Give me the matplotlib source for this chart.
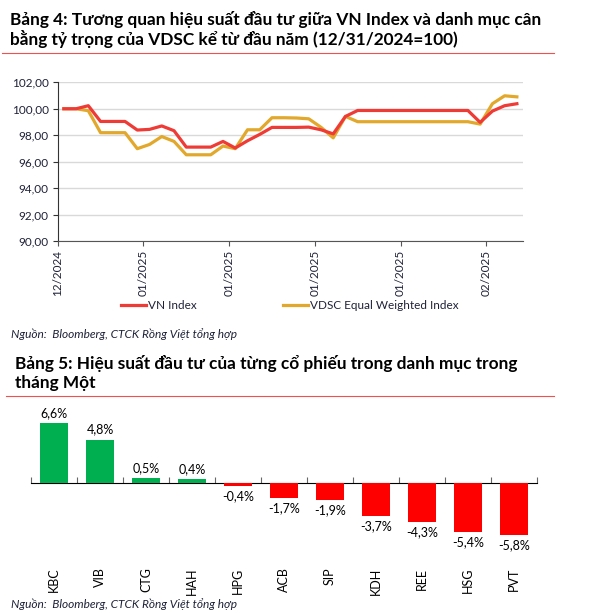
import numpy as np
import pandas as pd
import matplotlib
matplotlib.use("Agg")
import matplotlib.pyplot as plt
import matplotlib.dates as mdates
from matplotlib.ticker import FuncFormatter, FixedLocator

plt.rcParams['font.family'] = ['Lato', 'DejaVu Sans']

# --- Bang 4 data (daily, 12/31/2024 = 100)
dates = pd.date_range('2024-12-31', periods=38, freq='D')
vn_index = [100.0, 100.0, 100.23, 99.04, 99.04, 99.04, 98.39, 98.44, 98.7, 98.34,
            97.1, 97.1, 97.1, 97.53, 97.03, 97.58, 98.06, 98.59, 98.59, 98.59,
            98.61, 98.41, 98.1, 99.42, 99.87, 99.87, 99.87, 99.87, 99.87, 99.87,
            99.87, 99.87, 99.87, 99.87, 98.97, 99.82, 100.23, 100.38]
vdsc_index = [100.0, 100.0, 99.85, 98.19, 98.19, 98.19, 96.98, 97.3, 97.9, 97.53,
              96.52, 96.52, 96.52, 97.18, 96.98, 98.41, 98.41, 99.32, 99.32, 99.3,
              99.24, 98.6, 97.8, 99.42, 99.02, 99.02, 99.02, 99.02, 99.02, 99.02,
              99.02, 99.02, 99.02, 99.02, 98.84, 100.38, 100.98, 100.9]

# --- Bang 5 data (% return in January)
tickers = ['KBC', 'VIB', 'CTG', 'HAH', 'HPG', 'ACB', 'SIP', 'KDH', 'REE', 'HSG', 'PVT']
returns = [6.6, 4.8, 0.5, 0.4, -0.4, -1.7, -1.9, -3.7, -4.3, -5.4, -5.8]

TXT = '#1f2238'
RED_LINE = '#ef3b36'
GOLD = '#e2a82b'
GRID = '#d9d9d9'
TITLE_SIZE = 12.4
SOURCE = 'Nguồn:  Bloomberg, CTCK Rồng Việt tổng hợp'

fig = plt.figure(figsize=(5.9, 6.13), dpi=100)

# Bang 4 titles
fig.text(10 / 590, 1 - 19 / 613, 'Bảng 4: Tương quan hiệu suất đầu tư giữa VN Index và danh mục cân',
         fontsize=TITLE_SIZE, fontweight='bold', color='black', va='center')
fig.text(10 / 590, 1 - 39 / 613, 'bằng tỷ trọng của VDSC kể từ đầu năm (12/31/2024=100)',
         fontsize=TITLE_SIZE, fontweight='bold', color='black', va='center')
fig.add_artist(plt.Line2D([2 / 590, 554 / 590], [1 - 52.5 / 613] * 2, color='#f05050', lw=0.8))

# ---- Line chart
ax1 = fig.add_axes([57.7 / 590, 1 - 241 / 613, (523 - 57.7) / 590, (241 - 82.3) / 613])
ax1.plot(dates, vn_index, color=RED_LINE, lw=2.3, label='VN Index', zorder=3)
ax1.plot(dates, vdsc_index, color=GOLD, lw=2.3, label='VDSC Equal Weighted Index', zorder=2)
half = pd.Timedelta(hours=12)
ax1.set_xlim(dates[0] - half, dates[-1] + half)
ax1.set_ylim(90, 102)
ax1.set_yticks(np.arange(90, 103, 2))
ax1.yaxis.set_major_formatter(FuncFormatter(lambda v, p: f'{v:.2f}'.replace('.', ',')))
ax1.xaxis.set_major_locator(FixedLocator(mdates.date2num(list(dates[::7] - half))))
ax1.xaxis.set_major_formatter(mdates.DateFormatter('%m/%Y'))
ax1.grid(axis='y', color=GRID, lw=1)
ax1.set_axisbelow(True)
for s in ['top', 'right']:
    ax1.spines[s].set_visible(False)
ax1.spines['left'].set_color('#333333')
ax1.spines['bottom'].set_color('#555555')
ax1.tick_params(axis='y', labelsize=8.5, colors='#333333', labelcolor=TXT, length=3.5, pad=3)
ax1.tick_params(axis='x', labelsize=8.5, colors='#555555', labelcolor=TXT, length=3.5,
                labelrotation=90, pad=3)

fig.legend(loc='center', bbox_to_anchor=(290 / 590, 1 - 306 / 613), ncol=2, frameon=False,
           fontsize=8.5, handlelength=2.1, columnspacing=7.3, labelcolor=TXT, handletextpad=0.2)

fig.text(11 / 590, 1 - 334 / 613, SOURCE, fontsize=8.6, style='italic', color=TXT, va='center')

# Bang 5 titles
fig.text(15 / 590, 1 - 363 / 613, 'Bảng 5: Hiệu suất đầu tư của từng cổ phiếu trong danh mục trong',
         fontsize=TITLE_SIZE, fontweight='bold', color='black', va='center')
fig.text(15 / 590, 1 - 383 / 613, 'tháng Một',
         fontsize=TITLE_SIZE, fontweight='bold', color='black', va='center')
fig.add_artist(plt.Line2D([6 / 590, 554 / 590], [1 - 396 / 613] * 2, color='#f05050', lw=0.8))

# ---- Bar chart
ax2 = fig.add_axes([31 / 590, 1 - 555 / 613, 506 / 590, (555 - 410.7) / 613])
x = np.arange(len(tickers))
colors = ['#00b050' if r >= 0 else '#ff0000' for r in returns]
bars = ax2.bar(x, returns, width=0.62, color=colors, zorder=3)
ax2.set_xlim(-0.5, len(tickers) - 0.5)
ax2.set_ylim(-8, 8)
ax2.set_yticks(np.arange(-8, 9, 2))
ax2.yaxis.set_visible(False)
ax2.grid(axis='y', color=GRID, lw=1)
ax2.set_axisbelow(True)
for s in ['top', 'right', 'left', 'bottom']:
    ax2.spines[s].set_visible(False)
ax2.set_xticks(x)
ax2.set_xticklabels(tickers, rotation=90)
ax2.tick_params(axis='x', length=0, pad=9, labelsize=9, labelcolor='black')
ax2.bar_label(bars, labels=[f'{r:.1f}%'.replace('.', ',') for r in returns],
              padding=3, fontsize=9, color='black')

zero = ax2.secondary_xaxis(0.5)
zero.set_xticks(np.arange(len(tickers) + 1) - 0.5)
zero.set_xticklabels([])
zero.tick_params(direction='out', length=4, color='#666666')
zero.spines['bottom'].set_color('black')
zero.spines['bottom'].set_linewidth(1)

fig.text(11 / 590, 1 - 604 / 613, SOURCE, fontsize=8.6, style='italic', color=TXT, va='center')

fig.savefig('out.png', dpi=100)
